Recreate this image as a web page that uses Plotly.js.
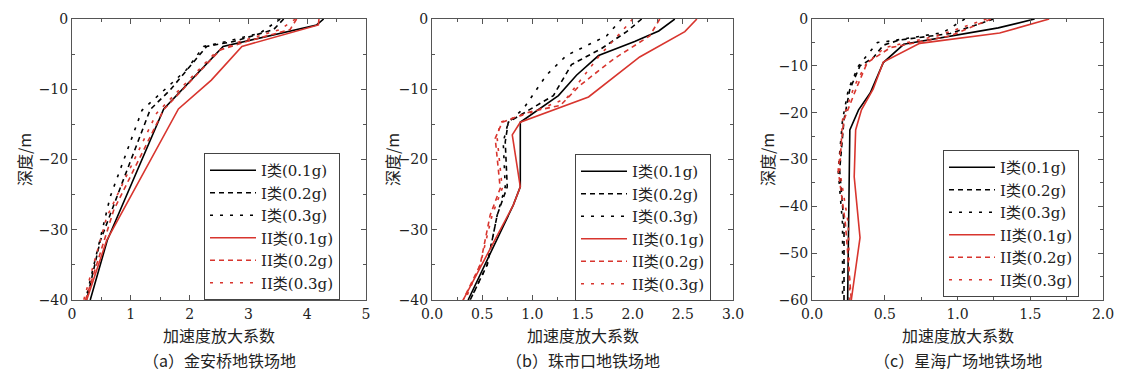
<!DOCTYPE html>
<html><head><meta charset="utf-8">
<script src="https://cdn.plot.ly/plotly-3.0.1.min.js"></script>
<style>html,body{margin:0;padding:0;background:#fff}#c{width:1137px;height:377px}</style>
</head><body><div id="c"></div>
<script>
const seriesNames = ['I类(0.1g)','I类(0.2g)','I类(0.3g)','II类(0.1g)','II类(0.2g)','II类(0.3g)'];

// Panel (a) 金安桥
const a_I1_x = [4.28,4.16,2.57,1.56,0.6,0.31];
const a_I1_y = [0,-0.85,-3.9,-12.8,-31.5,-40];
const a_I2_x = [3.6,3.43,2.75,2.43,2.29,1.67,1.33,0.85,0.48,0.25];
const a_I2_y = [0,-1.5,-3.2,-3.7,-3.9,-10.1,-12.9,-23.4,-31.6,-40];
const a_I3_x = [3.54,3.2,2.63,2.24,1.95,1.19,0.65,0.4,0.23];
const a_I3_y = [0,-2,-3.2,-3.9,-7.2,-13,-25.3,-34.3,-40];
const a_II1_x = [4.2,4.19,2.89,2.37,1.81,0.59,0.25];
const a_II1_y = [0,-0.85,-3.9,-8.7,-12.8,-31.5,-40];
const a_II2_x = [3.82,3.71,2.97,2.52,1.56,0.71,0.23];
const a_II2_y = [0,-1.5,-3.2,-4.4,-12.9,-27.2,-40];
const a_II3_x = [3.8,3.54,2.86,2.46,1.44,0.59,0.2];
const a_II3_y = [0,-1.5,-3.2,-4.6,-13.4,-28.2,-40];

// Panel (b) 珠市口
const b_I1_x = [2.42,2.26,2.02,1.66,1.44,1.26,0.88,0.88,0.81,0.36];
const b_I1_y = [0,-1.7,-3.2,-5.2,-8,-10.9,-14.7,-23.9,-26.5,-40];
const b_I2_x = [2.09,1.94,1.69,1.39,1.21,0.98,0.76,0.73,0.75,0.65,0.55,0.38];
const b_I2_y = [0,-1.8,-4.2,-6.5,-10.9,-12.8,-14.7,-17.5,-23.9,-27.9,-35,-40];
const b_I3_x = [1.89,1.74,1.34,1.14,0.91,0.76,0.71,0.73,0.65,0.55,0.38];
const b_I3_y = [0,-2.4,-5.2,-8,-12.8,-14.7,-17.5,-23.9,-27.9,-35,-40];
const b_II1_x = [2.64,2.52,2.07,1.56,0.88,0.8,0.88,0.81,0.31];
const b_II1_y = [0,-1.8,-5.4,-11.1,-14.7,-16.5,-23.9,-26.5,-40];
const b_II2_x = [2.27,2.17,1.81,1.47,1.28,0.98,0.7,0.63,0.68,0.58,0.48,0.31];
const b_II2_y = [0,-2.4,-5.7,-9.5,-12.3,-13.2,-14.7,-17,-24.1,-27.9,-35,-40];
const b_II3_x = [2.0,1.94,1.67,1.44,1.34,1.01,0.68,0.65,0.7,0.6,0.48,0.33];
const b_II3_y = [0,-1,-5.2,-9.5,-11.3,-13.2,-14.7,-17,-24.1,-27.9,-35,-40];

// Panel (c) 星海广场
const c_I1_x = [1.53,1.28,0.63,0.49,0.40,0.32,0.26,0.25,0.245];
const c_I1_y = [0,-1.9,-5.4,-9.3,-15.8,-19.4,-23.7,-43.8,-60];
const c_I2_x = [1.25,0.95,0.6,0.49,0.42,0.33,0.26,0.22,0.19,0.22,0.22];
const c_I2_y = [0,-3.1,-4.5,-5.6,-8.3,-10,-15,-21.5,-32.3,-43.8,-60];
const c_I3_x = [1.05,0.9,0.54,0.45,0.32,0.25,0.21,0.18,0.21,0.21];
const c_I3_y = [0,-2.9,-4.7,-5,-10,-15,-21.5,-32.3,-43.8,-60];
const c_II1_x = [1.63,1.29,0.74,0.49,0.42,0.34,0.3,0.29,0.33,0.27];
const c_II1_y = [0,-3.0,-5.2,-9.2,-15,-19.4,-23.7,-33.7,-46.7,-60];
const c_II2_x = [1.23,0.95,0.54,0.38,0.31,0.22,0.18,0.23,0.27];
const c_II2_y = [0,-3.6,-6.1,-9.3,-14.4,-21.5,-32.3,-43.8,-60];
const c_II3_x = [1.2,0.86,0.5,0.37,0.29,0.21,0.19,0.25,0.26];
const c_II3_y = [0,-3.6,-6.1,-9.7,-14.4,-21.5,-32.3,-43.8,-60];

const xTitle = '加速度放大系数';
const yTitle = '深度/m';
const subTitles = ['（a）金安桥地铁场地','（b）珠市口地铁场地','（c）星海广场地铁场地'];

const RED = '#d8352e', BLK = '#000000';
const styles = [
  {color:BLK, dash:'solid'},
  {color:BLK, dash:'5px,4px'},
  {color:BLK, dash:'3px,7px'},
  {color:RED, dash:'solid'},
  {color:RED, dash:'5px,4px'},
  {color:RED, dash:'3px,7px'}
];

const panels = [
  {xs:[a_I1_x,a_I2_x,a_I3_x,a_II1_x,a_II2_x,a_II3_x], ys:[a_I1_y,a_I2_y,a_I3_y,a_II1_y,a_II2_y,a_II3_y]},
  {xs:[b_I1_x,b_I2_x,b_I3_x,b_II1_x,b_II2_x,b_II3_x], ys:[b_I1_y,b_I2_y,b_I3_y,b_II1_y,b_II2_y,b_II3_y]},
  {xs:[c_I1_x,c_I2_x,c_I3_x,c_II1_x,c_II2_x,c_II3_x], ys:[c_I1_y,c_I2_y,c_I3_y,c_II1_y,c_II2_y,c_II3_y]}
];

const W=1137, H=377;
const NUMFONT = '"DejaVu Serif","Liberation Serif","Noto Sans CJK SC",serif';
const CJK = '"Noto Sans CJK SC","Liberation Serif",serif';

const traces = [];
panels.forEach((p,pi)=>{
  const sfx = pi===0?'':String(pi+1);
  p.xs.forEach((xv,si)=>{
    traces.push({
      type:'scatter', mode:'lines', x:xv, y:p.ys[si], name:seriesNames[si],
      xaxis:'x'+sfx, yaxis:'y'+sfx, legend:'legend'+sfx,
      line:{color:styles[si].color, dash:styles[si].dash, width:1.6},
      hoverinfo:'skip'
    });
  });
});

const pxs = [[72,366],[432,733],[812,1103]];
const plotTop=19, plotBot=300;
const ranges = [[0,5],[0,3],[0,2]];
const dticks = [1,0.5,0.5];
const yranges = [[-40,0],[-40,0],[-60,0]];
const tickfmt = ['d','.1f','.1f'];
const legendPos = [[204,153],[575,154],[943,150]];

const layout = {
  width:W, height:H, margin:{l:0,r:0,t:0,b:0},
  paper_bgcolor:'#fff', plot_bgcolor:'#fff',
  font:{family:NUMFONT, size:15, color:'#222'},
  showlegend:true, annotations:[]
};
for (let i=0;i<3;i++){
  const sfx = i===0?'':String(i+1);
  const axStyle = {showgrid:false, zeroline:false, showline:true, linecolor:'#555', linewidth:1,
    mirror:'ticks', ticks:'inside', ticklen:5, tickcolor:'#555', tickfont:{family:NUMFONT,size:14,color:'#222'}};
  layout['xaxis'+sfx] = Object.assign({}, axStyle, {
    domain:[pxs[i][0]/W, pxs[i][1]/W], range:ranges[i], dtick:dticks[i], tick0:0, tickformat:tickfmt[i],
    anchor:'y'+sfx, ticklabelstandoff:1, minor:{ticks:'inside', ticklen:3, tickcolor:'#555', dtick:dticks[i]/2}
  });
  layout['yaxis'+sfx] = Object.assign({}, axStyle, {
    domain:[1-plotBot/H, 1-plotTop/H], range:yranges[i], dtick:10, tick0:0, anchor:'x'+sfx,
    minor:{ticks:'inside', ticklen:3, tickcolor:'#555', dtick:5}
  });
  layout['legend'+sfx] = {
    x:legendPos[i][0]/W, y:1-legendPos[i][1]/H, xanchor:'left', yanchor:'top',
    bgcolor:'#fff', bordercolor:'#444', borderwidth:1,
    font:{family:NUMFONT, size:15, color:'#222'}, tracegroupgap:0, itemwidth:46
  };
  const cx = (pxs[i][0]+pxs[i][1])/2;
  layout.annotations.push({xref:'paper', yref:'paper', x:cx/W, y:1-335/H, text:xTitle, showarrow:false,
    font:{family:CJK, size:16, color:'#222'}, xanchor:'center', yanchor:'middle'});
  layout.annotations.push({xref:'paper', yref:'paper', x:cx/W, y:1-360/H, text:subTitles[i], showarrow:false,
    font:{family:CJK, size:16, color:'#222'}, xanchor:'center', yanchor:'middle'});
  const yx = [24, 392, 767][i];
  layout.annotations.push({xref:'paper', yref:'paper', x:yx/W, y:1-160/H, text:yTitle, showarrow:false, textangle:-90,
    font:{family:CJK, size:16, color:'#222'}, xanchor:'center', yanchor:'middle'});
}
Plotly.newPlot('c', traces, layout, {staticPlot:true});
</script></body></html>
